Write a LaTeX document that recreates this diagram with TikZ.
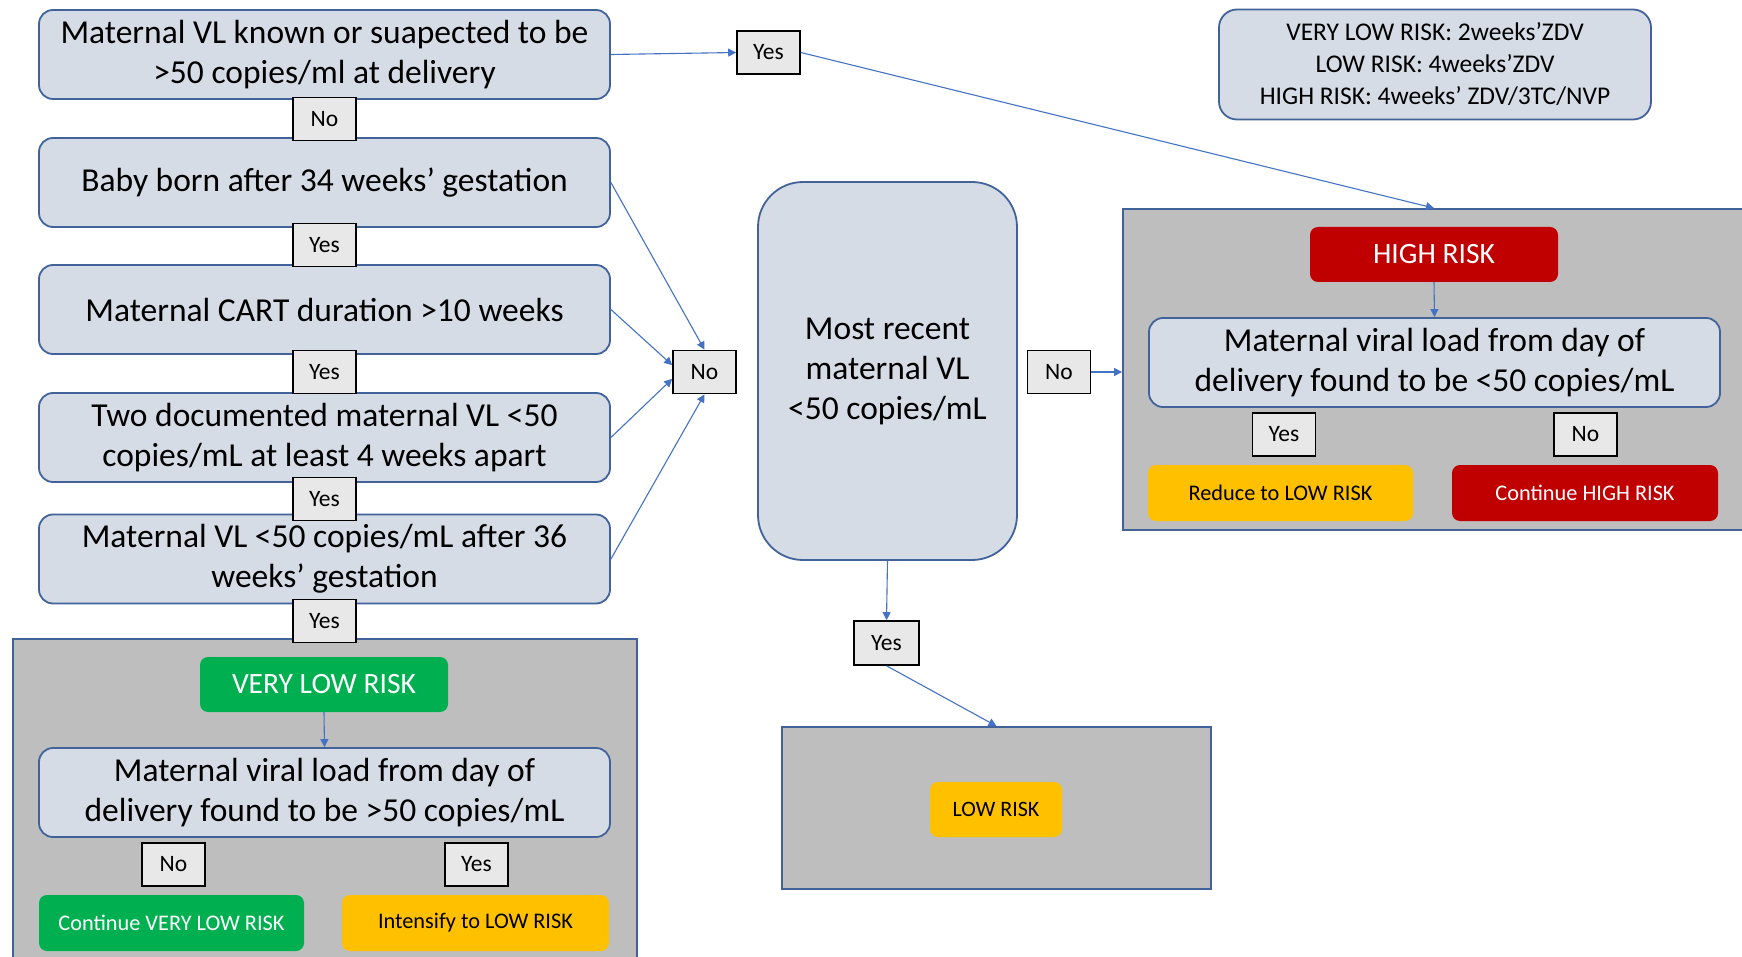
\documentclass[tikz,border=0pt]{standalone}
\usepackage{fontspec}
\setmainfont{Carlito}
\usetikzlibrary{arrows.meta}
\definecolor{qfill}{HTML}{D6DCE5}
\definecolor{qdraw}{HTML}{41639A}
\definecolor{cgray}{HTML}{BEBEBE}
\definecolor{lfill}{HTML}{E8E8E8}
\definecolor{vgreen}{HTML}{00B050}
\definecolor{hred}{HTML}{C00000}
\definecolor{lyellow}{HTML}{FFC000}
\definecolor{arr}{HTML}{4472C4}
\begin{document}
\begin{tikzpicture}[x=1pt,y=-1pt,
  qbox/.style={draw=qdraw, line width=1.8pt, fill=qfill, rounded corners=14pt, align=center,
    minimum width=571pt, minimum height=89pt, inner sep=0pt, font=\fontsize{33.5}{40}\selectfont},
  lbl/.style={draw=black, line width=1.6pt, fill=lfill, minimum width=63pt, minimum height=43pt,
    inner sep=0pt, font=\fontsize{23.5}{28}\selectfont},
  cont/.style={draw=qdraw, line width=1.8pt, fill=cgray, inner sep=0pt},
  risk/.style={rounded corners=8pt, minimum width=248pt, minimum height=55pt, inner sep=0pt,
    font=\fontsize{29.5}{32}\selectfont},
  small/.style={rounded corners=8pt, minimum width=265pt, minimum height=56pt, inner sep=0pt,
    font=\fontsize{22.3}{26}\selectfont},
  conn/.style={draw=arr, line width=1.1pt, -{Triangle[width=8pt,length=8pt]}},
]
\useasboundingbox (0,0) rectangle (1742,957);
\fill[white] (0,0) rectangle (1742,957);

% containers
\node[cont, minimum width=624pt, minimum height=340pt] (vc) at (325,809) {};
\node[cont, minimum width=640pt, minimum height=321pt] (hc) at (1443,369.5) {};
\node[cont, minimum width=429pt, minimum height=162pt] (lc) at (996.5,808) {};

% left column questions
\node[qbox] (q1) at (324.5,54.5) {Maternal VL known or suapected to be\\>50 copies/ml at delivery};
\node[qbox] (q2) at (324.5,182.5) {Baby born after 34 weeks’ gestation};
\node[qbox] (q3) at (324.5,309.5) {Maternal CART duration >10 weeks};
\node[qbox] (q4) at (324.5,437.5) {Two documented maternal VL <50\\copies/mL at least 4 weeks apart};
\node[qbox] (q5) at (324.5,559) {Maternal VL <50 copies/mL after 36\\weeks’ gestation};

\node[lbl] (l1) at (324.5,119) {No};
\node[lbl] (l2) at (324.5,245) {Yes};
\node[lbl] (l3) at (324.5,372) {Yes};
\node[lbl] (l4) at (324.5,499) {Yes};
\node[lbl] (l5) at (324.5,621) {Yes};

% very low risk container content
\node[risk, fill=vgreen, text=white] (vlr) at (324,684.5) {VERY LOW RISK};
\node[qbox] (vq) at (324.5,792.5) {Maternal viral load from day of\\delivery found to be >50 copies/mL};
\node[lbl] (vno) at (173.5,864.5) {No};
\node[lbl] (vyes) at (476.5,864.5) {Yes};
\node[small, fill=vgreen, text=white] (vcont) at (171.5,923) {Continue VERY LOW RISK};
\node[small, fill=lyellow, text=black, minimum width=267pt] (vint) at (475.5,923) {Intensify to LOW RISK};

% top yes and legend
\node[lbl] (ytop) at (768.5,52.5) {Yes};
\node[qbox, minimum width=432pt, minimum height=110pt, rounded corners=18pt,
  font=\fontsize{25.5}{32}\selectfont] (leg) at (1435,64.5)
  {VERY LOW RISK: 2weeks’ZDV\\LOW RISK: 4weeks’ZDV\\HIGH RISK: 4weeks’ ZDV/3TC/NVP};

% middle
\node[lbl] (nmid) at (704.5,372) {No};
\node[qbox, minimum width=259pt, minimum height=378pt, rounded corners=45pt] (cen) at (887.5,371)
  {Most recent\\maternal VL\\<50 copies/mL};
\node[lbl] (nright) at (1059,372) {No};
\node[lbl, minimum width=65pt, minimum height=44pt] (ybot) at (886.5,643) {Yes};

% high risk container content
\node[risk, fill=hred, text=white] (hr) at (1434,254.5) {HIGH RISK};
\node[qbox] (hq) at (1434.5,362.5) {Maternal viral load from day of\\delivery found to be <50 copies/mL};
\node[lbl] (hyes) at (1284,434.5) {Yes};
\node[lbl] (hno) at (1585.5,434.5) {No};
\node[small, fill=lyellow, text=black] (hred) at (1280.5,493) {Reduce to LOW RISK};
\node[small, fill=hred, text=white, minimum width=266pt] (hcont) at (1585,493) {Continue HIGH RISK};

% low risk
\node[risk, fill=lyellow, text=black, minimum width=132pt, font=\fontsize{22}{26}\selectfont] (lr) at (996,809.5) {LOW RISK};

% connectors
\draw[conn] (q1.east) -- (ytop.west);
\draw[conn] (ytop.east) -- (hr.north |- hc.north);
\draw[conn] (q2.east) -- (nmid.north);
\draw[conn] (q3.east) -- (nmid.168);
\draw[conn] (q4.east) -- (nmid.192);
\draw[conn] (q5.east) -- (nmid.south);
\draw[conn] (cen.south) -- (ybot.north);
\draw[conn] (ybot.south) -- (lc.north);
\draw[conn] (nright.east) -- (hc.west |- nright.east);
\draw[conn] (hr.south) -- (hq.north);
\draw[conn] (vlr.south) -- (vq.north);
\end{tikzpicture}
\end{document}
